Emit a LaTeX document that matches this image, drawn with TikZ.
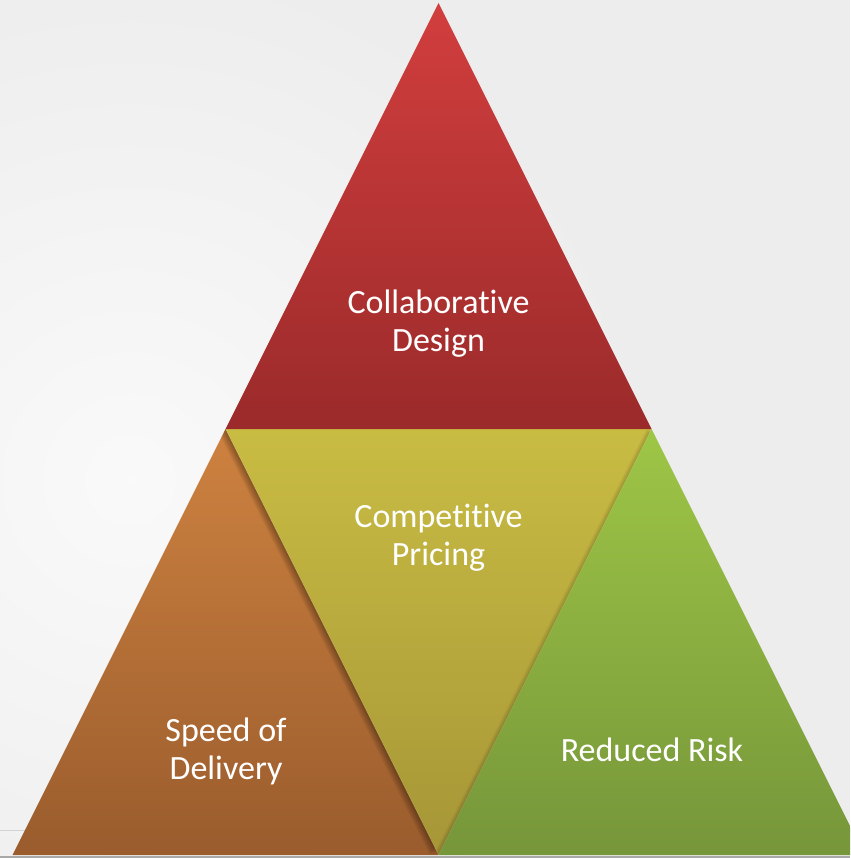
\documentclass[tikz,border=0pt]{standalone}
\usepackage{fontspec}
\setmainfont{Carlito}[RawFeature={-liga;-clig;-calt}]
\usetikzlibrary{calc}
\newcommand{\nb}{\kern0pt{}}
\definecolor{bgcol}{HTML}{EDEDED}
\definecolor{topA}{HTML}{D23E3E}
\definecolor{topB}{HTML}{9B2A2A}
\definecolor{midA}{HTML}{C9BC43}
\definecolor{midB}{HTML}{A69637}
\definecolor{lefA}{HTML}{CE8240}
\definecolor{lefB}{HTML}{9A5C2D}
\definecolor{rigA}{HTML}{9EC646}
\definecolor{rigB}{HTML}{76963A}
\definecolor{lineg}{HTML}{A8A8A8}
\tikzset{
  lbl/.style={text=white, align=center, font=\fontsize{34}{38}\selectfont, inner sep=0pt}
}
\begin{document}
\begin{tikzpicture}[x=1pt,y=-1pt]
\useasboundingbox (0,0) rectangle (850,858);
\clip (0,0) rectangle (850,858);
% background
\fill[bgcol] (0,0) rectangle (850,858);
\shade[inner color=white!70!bgcol, outer color=bgcol] (130,480) circle (520);
\fill[lineg!50] (0,829.5) rectangle (26,831);
% corners
\coordinate (A) at (438.5,3);
\coordinate (L) at (225.5,429);
\coordinate (R) at (651.5,429);
\coordinate (BL) at (12.5,855);
\coordinate (BM) at (438.5,855);
\coordinate (BR) at (864.5,855);
% left triangle
\shade[top color=lefA, bottom color=lefB] (L) -- (BM) -- (BL) -- cycle;
% shadow of middle on left
\begin{scope}
  \clip (L) -- (BM) -- (BL) -- cycle;
  \foreach \k in {1,...,9} {
    \fill[black, opacity=0.04] ($(L)+(-\k,0)$) -- ($(R)+(-\k,0)$) -- ($(BM)+(-\k,0)$) -- cycle;
  }
\end{scope}
% middle triangle
\shade[top color=midA, bottom color=midB] (L) -- (R) -- (BM) -- cycle;
% shadow of right on middle
\begin{scope}
  \clip (L) -- (R) -- (BM) -- cycle;
  \foreach \k in {1,...,5} {
    \fill[black, opacity=0.035] ($(R)+(-\k,0)$) -- ($(BR)+(-\k,0)$) -- ($(BM)+(-\k,0)$) -- cycle;
  }
\end{scope}
% right triangle
\shade[top color=rigA, bottom color=rigB] (R) -- (BR) -- (BM) -- cycle;
% top triangle
\shade[top color=topA, bottom color=topB] (A) -- (R) -- (L) -- cycle;
% bottom line
\fill[lineg] (0,855.5) rectangle (850,858);
% labels
\node[lbl] (design) at (438.5,324) {Collaborat\nb ive\\Design};
\node[lbl] (pricing) at (438.5,538) {Compet\nb it\nb ive\\Pricing};
\node[lbl] (speed) at (226,751) {Speed of\\Delivery};
\node[lbl] (risk) at (652,750) {Reduced Risk};
\end{tikzpicture}
\end{document}
